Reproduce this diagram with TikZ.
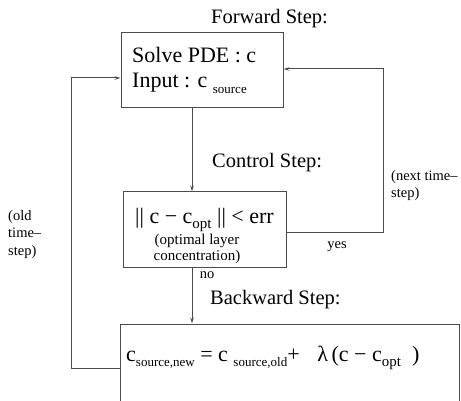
\documentclass[tikz,border=0pt]{standalone}
\usepackage{fontspec}
\setmainfont{Liberation Serif}
\usetikzlibrary{arrows.meta}
% lowered, smaller text used as a subscript
\newcommand{\lowsub}[2][13]{\raisebox{-0.24em}{\fontsize{#1}{#1}\selectfont #2}}
\definecolor{linegray}{gray}{0.3}

\begin{document}
\begin{tikzpicture}[x=1pt,y=-1pt,
  stepbox/.style={draw=linegray, line width=1pt, inner sep=0pt},
  link/.style={draw=linegray, line width=1pt, -{Stealth[length=6pt,width=3.5pt]}},
  title/.style={font=\fontsize{20.5}{24}\selectfont, anchor=base west, inner sep=0pt},
  body/.style={font=\fontsize{22}{26}\selectfont, anchor=base west, inner sep=0pt},
  note/.style={font=\fontsize{14.5}{17.5}\selectfont, align=left, anchor=north west, inner sep=0pt},
  tag/.style={font=\fontsize{14.5}{17.5}\selectfont, inner sep=0pt}]

\useasboundingbox (0,0) rectangle (461,401);

% the three step boxes
\node[stepbox, minimum width=162pt, minimum height=75pt] (fwd) at (202,70.5) {};
\node[stepbox, minimum width=163pt, minimum height=75pt] (ctrl) at (204.5,229.5) {};
\node[stepbox, minimum width=339pt, minimum height=96pt] (bwd) at (289.5,372) {};

% step titles
\node[title] (fwdtitle) at (211,24) {Forward Step:};
\node[title] (ctrltitle) at (212,168) {Control Step:};
\node[title] (bwdtitle) at (210,305) {Backward Step:};

% forward step contents
\node[body] (solve) at (132,63) {Solve PDE : c};
\node[body] (input) at (132,88) {Input : c \lowsub{source}};

% control step contents
\node[body] (crit) at (135,223.5) {|| c − c\lowsub[15]{opt} || < err};
\node[font=\fontsize{15}{16}\selectfont, align=center, anchor=north, inner sep=0pt]
  (ctrlnote) at (197,234) {(optimal layer\\concentration)};

% backward step contents
\node[body] (update) at (126,361)
  {c\lowsub{source,new} = c \lowsub{source,old}+\hspace{0.8em}λ\,(c − c\lowsub[15]{opt}\hspace{0.5em})};

% connectors
\draw[link] ([xshift=-10pt]fwd.south) -- ([xshift=-10pt]fwd.south |- ctrl.north);
\draw[link] ([xshift=-12.5pt]ctrl.south) -- ([xshift=-12.5pt]ctrl.south |- bwd.north);

\coordinate (rloop) at (383,69);
\draw[link] ([yshift=-3.5pt]ctrl.east) -| (rloop) -- (rloop -| fwd.east);

\coordinate (lloop) at (71,368);
\draw[link] (lloop -| bwd.west) -- (lloop) |- ([yshift=-7.5pt]fwd.west);

% connector labels
\node[note] (nextlbl) at (391,170) {(next time–\\step)};
\node[note] (oldlbl) at (8,210) {(old\\time–\\step)};
\node[tag] (yes) at (337,247) {yes};
\node[tag] (no) at (207,275) {no};

\end{tikzpicture}
\end{document}
